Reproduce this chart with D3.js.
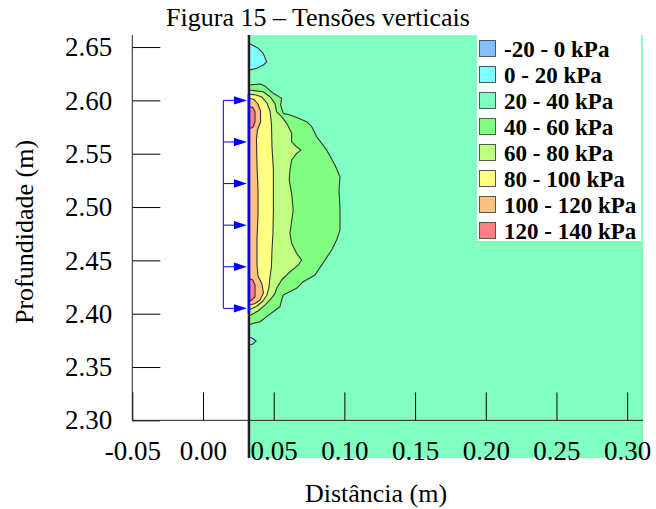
<!DOCTYPE html>
<html>
<head>
<meta charset="utf-8">
<script src="https://cdn.jsdelivr.net/npm/d3@7"></script>
<style>
  html, body { margin: 0; padding: 0; background: #fff; }
  svg { display: block; }
  text { font-family: "Liberation Serif", "Times New Roman", serif; fill: #000; }
</style>
</head>
<body>
<svg id="chart" width="656" height="509"></svg>
<script>
// Vertical stress field beside a loaded wall (contour bands in kPa)

const xTicks = [-0.05, 0.00, 0.05, 0.10, 0.15, 0.20, 0.25, 0.30];
const yTicks = [2.30, 2.35, 2.40, 2.45, 2.50, 2.55, 2.60, 2.65];

// model region: wall face to the far edge, depth range of the mesh
const meshX = [0.0325, 0.3112];
const meshY = [2.2647, 2.6613];

// load applied to the wall face
const loadDepths = [2.600, 2.561, 2.522, 2.483, 2.444, 2.405];
const loadSpan = [2.4005, 2.606];
const loadBracketX = 0.0144;

const bandLabels = ["-20 - 0 kPa", "0 - 20 kPa", "20 - 40 kPa", "40 - 60 kPa",
                    "60 - 80 kPa", "80 - 100 kPa", "100 - 120 kPa", "120 - 140 kPa"];
const bandColors = ["#80c0ff", "#80ffff", "#80ffc0", "#80ff80",
                    "#c0ff80", "#ffff80", "#ffc080", "#ff8080"];

// isolines [distance (m), depth (m)], each starting and ending on the wall face
const iso40 = [[0.0325,2.6144],[0.0403,2.6153],[0.0438,2.6134],[0.0497,2.6066],[0.0556,2.6019],
  [0.0549,2.5956],[0.0568,2.5878],[0.0615,2.5863],[0.0650,2.5847],[0.0733,2.5800],[0.0769,2.5753],
  [0.0804,2.5659],[0.0875,2.5534],[0.0933,2.5394],[0.0969,2.5284],[0.0962,2.5159],[0.0969,2.4972],
  [0.0969,2.4784],[0.0945,2.4691],[0.0910,2.4597],[0.0863,2.4503],[0.0815,2.4409],[0.0792,2.4363],
  [0.0709,2.4300],[0.0662,2.4238],[0.0568,2.4175],[0.0556,2.4128],[0.0544,2.4065],[0.0497,2.4018],
  [0.0450,2.3972],[0.0403,2.3925],[0.0356,2.3910],[0.0325,2.3894]];

const iso60 = [[0.0325,2.6097],[0.0426,2.6081],[0.0474,2.6034],[0.0509,2.5972],[0.0521,2.5893],
  [0.0556,2.5847],[0.0592,2.5785],[0.0627,2.5691],[0.0627,2.5612],[0.0662,2.5565],[0.0693,2.5534],
  [0.0662,2.5503],[0.0627,2.5441],[0.0615,2.5347],[0.0610,2.5253],[0.0627,2.5128],[0.0638,2.4972],
  [0.0615,2.4753],[0.0627,2.4660],[0.0662,2.4566],[0.0698,2.4503],[0.0674,2.4456],[0.0615,2.4393],
  [0.0556,2.4316],[0.0521,2.4238],[0.0509,2.4191],[0.0481,2.4138],[0.0438,2.4081],[0.0389,2.4025],
  [0.0325,2.3978]];

const iso80 = [[0.0325,2.6059],[0.0375,2.6050],[0.0417,2.6031],[0.0452,2.5975],[0.0474,2.5900],
  [0.0484,2.5788],[0.0488,2.5563],[0.0498,2.5347],[0.0498,2.4972],[0.0495,2.4756],[0.0488,2.4597],
  [0.0484,2.4438],[0.0474,2.4344],[0.0467,2.4250],[0.0452,2.4175],[0.0424,2.4119],[0.0382,2.4072],
  [0.0325,2.4034]];

const iso100 = [[0.0325,2.6022],[0.0361,2.6008],[0.0389,2.5966],[0.0407,2.5900],[0.0407,2.5797],
  [0.0385,2.5722],[0.0378,2.5628],[0.0382,2.5394],[0.0389,2.5159],[0.0389,2.4925],[0.0382,2.4691],
  [0.0382,2.4456],[0.0389,2.4353],[0.0417,2.4278],[0.0428,2.4194],[0.0403,2.4128],[0.0368,2.4095],
  [0.0325,2.4077]];

const iso120Top = [[0.0325,2.5940],[0.0351,2.5935],[0.0368,2.5893],[0.0368,2.5800],
  [0.0356,2.5753],[0.0325,2.5728]];
const iso120Bottom = [[0.0325,2.4332],[0.0351,2.4316],[0.0368,2.4269],[0.0368,2.4159],
  [0.0344,2.4128],[0.0325,2.4112]];

// pockets below 20 kPa
const iso20Top = [[0.0325,2.6535],[0.0391,2.6488],[0.0426,2.6441],[0.0450,2.6362],
  [0.0426,2.6331],[0.0380,2.6300],[0.0325,2.6284]];
const iso20Bottom = [[0.0325,2.3781],[0.0353,2.3767],[0.0375,2.3744],[0.0353,2.3716],
  [0.0325,2.3706]];

// filled regions, drawn outermost first; band = index into bandColors
const regions = [
  { line: iso40, band: 3 },
  { line: iso60, band: 4 },
  { line: iso80, band: 5 },
  { line: iso100, band: 6 },
  { line: iso120Top, band: 7 },
  { line: iso120Bottom, band: 7 },
  { line: iso20Top, band: 1 },
  { line: iso20Bottom, band: 1 }
];

const svg = d3.select("#chart");

const x = d3.scaleLinear().domain([-0.05, meshX[1]]).range([132.3, 643]);
const y = d3.scaleLinear().domain(meshY).range([458, 35]);

// background band of the mesh (20 - 40 kPa)
svg.append("rect")
  .attr("x", x(meshX[0])).attr("y", y(meshY[1]))
  .attr("width", x(meshX[1]) - x(meshX[0]))
  .attr("height", y(meshY[0]) - y(meshY[1]))
  .attr("fill", bandColors[2]);

const area = d3.line().x(d => x(d[0])).y(d => y(d[1]));

svg.append("g").selectAll("path")
  .data(regions)
  .join("path")
  .attr("d", d => area(d.line) + "Z")
  .attr("fill", d => bandColors[d.band])
  .attr("stroke", "#333")
  .attr("stroke-width", 1.1)
  .attr("stroke-linejoin", "round");

// axes
const fmt = d => d.toFixed(2);

const xAxis = d3.axisBottom(x).tickValues(xTicks).tickFormat(fmt)
  .tickSizeInner(-28).tickSizeOuter(0).tickPadding(20);
const gx = svg.append("g").attr("transform", `translate(0,${y(2.30)})`).call(xAxis);
gx.select(".domain").remove();
gx.selectAll("line").attr("stroke", "#000");
gx.selectAll("text").attr("font-size", 27).attr("fill", "#000");

const yAxis = d3.axisLeft(y).tickValues(yTicks).tickFormat(fmt)
  .tickSizeInner(-28).tickSizeOuter(0).tickPadding(20);
const gy = svg.append("g").attr("transform", `translate(${x(-0.05)},0)`).call(yAxis);
gy.select(".domain").remove();
gy.selectAll("line").attr("stroke", "#000");
gy.selectAll("text").attr("font-size", 27).attr("fill", "#000");

// axis lines
svg.append("line")
  .attr("x1", x(-0.05)).attr("x2", x(meshX[1]))
  .attr("y1", y(2.30)).attr("y2", y(2.30))
  .attr("stroke", "#222").attr("stroke-width", 1);
svg.append("line")
  .attr("x1", x(-0.05)).attr("x2", x(-0.05))
  .attr("y1", y(2.30)).attr("y2", y(meshY[1]))
  .attr("stroke", "#222").attr("stroke-width", 1);

// wall face
svg.append("line")
  .attr("x1", x(meshX[0])).attr("x2", x(meshX[0]))
  .attr("y1", y(meshY[0])).attr("y2", y(meshY[1]))
  .attr("stroke", "#222").attr("stroke-width", 2.5);

// applied load
const load = svg.append("g").attr("stroke", "#0000ff").attr("fill", "#0000ff");
load.append("line")
  .attr("x1", x(meshX[0])).attr("x2", x(meshX[0]))
  .attr("y1", y(loadSpan[0])).attr("y2", y(loadSpan[1]))
  .attr("stroke-width", 2.5);
load.append("line")
  .attr("x1", x(loadBracketX)).attr("x2", x(loadBracketX))
  .attr("y1", y(d3.max(loadDepths))).attr("y2", y(d3.min(loadDepths)))
  .attr("stroke-width", 1);
load.selectAll("line.shaft")
  .data(loadDepths)
  .join("line")
  .attr("class", "shaft")
  .attr("x1", x(loadBracketX)).attr("x2", x(meshX[0]) - 8)
  .attr("y1", d => y(d)).attr("y2", d => y(d))
  .attr("stroke-width", 1);
load.selectAll("path.head")
  .data(loadDepths)
  .join("path")
  .attr("class", "head")
  .attr("stroke", "none")
  .attr("d", d => {
    const tx = x(meshX[0]) - 2, ty = y(d);
    return `M${tx},${ty}L${tx - 13},${ty - 4.2}L${tx - 13},${ty + 4.2}Z`;
  });

// legend
const legend = svg.append("g").attr("transform", "translate(477,35)");
legend.append("rect").attr("width", 164).attr("height", 206).attr("fill", "#fff");
const rows = legend.selectAll("g.row")
  .data(bandLabels)
  .join("g")
  .attr("class", "row")
  .attr("transform", (d, i) => `translate(0,${14 + i * 26})`);
rows.append("rect")
  .attr("x", 2.5).attr("y", -8.5).attr("width", 16).attr("height", 16)
  .attr("fill", (d, i) => bandColors[i])
  .attr("stroke", "#555").attr("stroke-width", 1);
rows.append("text")
  .attr("x", 27).attr("y", 7.5)
  .attr("font-size", 23).attr("font-weight", "bold")
  .text(d => d);

// titles
svg.append("text")
  .attr("x", 318).attr("y", 26)
  .attr("text-anchor", "middle").attr("font-size", 26)
  .text("Figura 15 – Tensões verticais");
svg.append("text")
  .attr("x", 376).attr("y", 502)
  .attr("text-anchor", "middle").attr("font-size", 26)
  .text("Distância (m)");
svg.append("text")
  .attr("transform", "translate(33,232) rotate(-90)")
  .attr("text-anchor", "middle").attr("font-size", 26)
  .text("Profundidade (m)");
</script>
</body>
</html>
